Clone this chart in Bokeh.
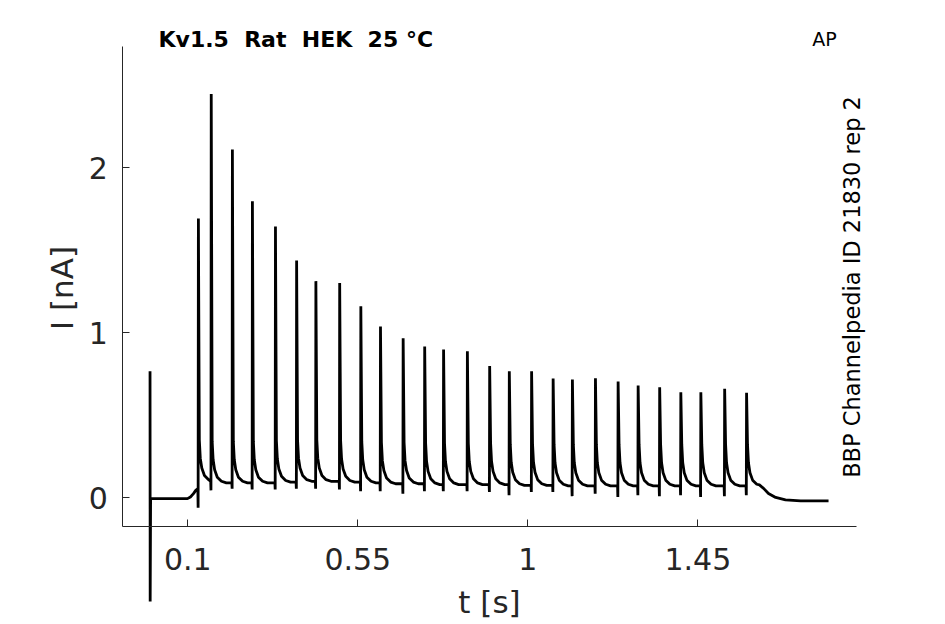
from bokeh.plotting import figure
from bokeh.models import Range1d, FixedTicker, CustomJSTickFormatter, Label, ColumnDataSource
from bokeh.embed import file_html
from bokeh.resources import INLINE

# ---- data ----
spike_t = [0.000, 0.128, 0.162, 0.218, 0.271, 0.332, 0.388, 0.439, 0.502, 0.558,
           0.610, 0.670, 0.727, 0.777, 0.840, 0.899, 0.951, 1.010, 1.067, 1.118,
           1.179, 1.239, 1.292, 1.349, 1.405, 1.458, 1.521, 1.579]
spike_peak = [0.767, 1.693, 2.447, 2.111, 1.797, 1.644, 1.438, 1.313, 1.301, 1.161,
              1.038, 0.967, 0.917, 0.899, 0.888, 0.798, 0.767, 0.767, 0.723, 0.717,
              0.725, 0.705, 0.681, 0.670, 0.640, 0.640, 0.661, 0.636]
spike_trough = [-0.628, -0.060, 0.045, 0.055, 0.050, 0.050, 0.055, 0.055, 0.050, 0.040,
                0.040, 0.025, 0.040, 0.040, 0.040, 0.035, 0.015, 0.035, 0.035, 0.010,
                0.025, 0.005, 0.015, 0.010, 0.015, 0.005, 0.010, 0.015]
pre_base = [-0.005, 0.055, 0.100, 0.090, 0.090, 0.090, 0.095, 0.100, 0.100, 0.095,
            0.090, 0.085, 0.085, 0.080, 0.080, 0.080, 0.080, 0.075, 0.075, 0.072,
            0.072, 0.072, 0.072, 0.072, 0.072, 0.072, 0.072, 0.072]
# decay of the current after each spike (time after spike [s], level above plateau [nA])
tail_dt = [0.0025, 0.005, 0.009, 0.016, 0.027, 0.040]
tail_rise = [0.25, 0.14, 0.08, 0.035, 0.010, 0.0]
# holding segment before the stimulus
pre_stim_t = [0.0015, 0.099, 0.107, 0.115, 0.121]
pre_stim_i = [-0.005, -0.005, 0.005, 0.025, 0.045]
# return to holding after the last spike
final_base = 0.072
end_t = [1.613, 1.624, 1.637, 1.656, 1.682, 1.722, 1.796]
end_i = [0.078, 0.057, 0.026, 0.002, -0.013, -0.019, -0.019]

x_ticks = [0.1, 0.55, 1, 1.45]
x_labels = ["0.1", "0.55", "1", "1.45"]
y_ticks = [0, 1, 2]
y_labels = ["0", "1", "2"]
x_lim = (-0.072, 1.870)
y_lim = (-0.174, 2.733)

# ---- assemble the trace ----
t = [spike_t[0], spike_t[0] + 0.0004]
cur = [spike_peak[0], spike_trough[0]]
t += pre_stim_t
cur += pre_stim_i
n = len(spike_t)
for k in range(1, n):
    t0 = spike_t[k]
    t += [t0 - 0.0014, t0 - 0.0007, t0]
    cur += [pre_base[k], spike_trough[k], spike_peak[k]]
    nxt = spike_t[k + 1] if k + 1 < n else end_t[0]
    base_after = pre_base[k + 1] if k + 1 < n else final_base
    for dt, r in zip(tail_dt, tail_rise):
        if t0 + dt < nxt - 0.003:
            t.append(t0 + dt)
            cur.append(base_after + r)
t += end_t
cur += end_i

src = ColumnDataSource(dict(t=t, i=cur))

AX = "#262626"
# the frame spans the whole canvas; the visible axes are drawn at the axis limits
p = figure(frame_width=890, frame_height=610,
           x_range=Range1d(-0.3164, 2.0394), y_range=Range1d(-0.7558, 2.941),
           min_border_left=30, min_border_right=4, min_border_top=12, min_border_bottom=0,
           output_backend="svg", toolbar_location=None, title=None)
p.outline_line_color = None
p.xgrid.visible = False
p.ygrid.visible = False
p.background_fill_color = "white"

p.line("t", "i", source=src, line_color="black", line_width=2.8)

JS = "const k = tvals.indexOf(tick); return k >= 0 ? tlabs[k] : String(tick);"
fmt_x = CustomJSTickFormatter(args=dict(tvals=x_ticks, tlabs=x_labels), code=JS)
fmt_y = CustomJSTickFormatter(args=dict(tvals=y_ticks, tlabs=y_labels), code=JS)

xa = p.xaxis[0]
xa.ticker = FixedTicker(ticks=x_ticks, minor_ticks=[])
xa.formatter = fmt_x
xa.fixed_location = y_lim[0]
xa.bounds = x_lim
xa.axis_label = "t [s]"

ya = p.yaxis[0]
ya.ticker = FixedTicker(ticks=y_ticks, minor_ticks=[])
ya.formatter = fmt_y
ya.fixed_location = x_lim[0]
ya.bounds = y_lim
ya.axis_label = None

for ax in (xa, ya):
    ax.axis_line_color = AX
    ax.axis_line_width = 1
    ax.major_tick_line_color = AX
    ax.major_tick_in = 7
    ax.major_tick_out = 0
    ax.minor_tick_line_color = None
    ax.major_label_text_font = "DejaVu Sans"
    ax.major_label_text_font_size = "30px"
    ax.major_label_text_color = AX
    ax.axis_label_text_font = "DejaVu Sans"
    ax.axis_label_text_font_size = "31px"
    ax.axis_label_text_font_style = "normal"
    ax.axis_label_text_color = AX
xa.major_label_standoff = 22
xa.axis_label_standoff = 10
ya.major_label_standoff = 15

# y-axis label, centred on the drawn axis line
p.add_layout(Label(x=-0.234, y=1.2715, text="I [nA]", angle=90, angle_units="deg",
                   text_font="DejaVu Sans", text_font_size="31px", text_color=AX,
                   text_align="center", text_baseline="middle"))
p.add_layout(Label(x=0.0224, y=2.776, text="Kv1.5\u00a0 Rat\u00a0 HEK\u00a0 25 °C",
                   text_font="DejaVu Sans", text_font_style="bold", text_font_size="22px",
                   text_color="black", text_align="left", text_baseline="middle"))
p.add_layout(Label(x=1.7853, y=2.779, text="AP",
                   text_font="DejaVu Sans", text_font_size="19px",
                   text_color="black", text_align="center", text_baseline="middle"))
p.add_layout(Label(x=1.8568, y=1.2776, text="BBP Channelpedia ID 21830 rep 2",
                   angle=90, angle_units="deg",
                   text_font="DejaVu Sans", text_font_size="22.5px",
                   text_color="black", text_align="center", text_baseline="middle"))

open("out.html", "w").write(file_html(p, INLINE))
